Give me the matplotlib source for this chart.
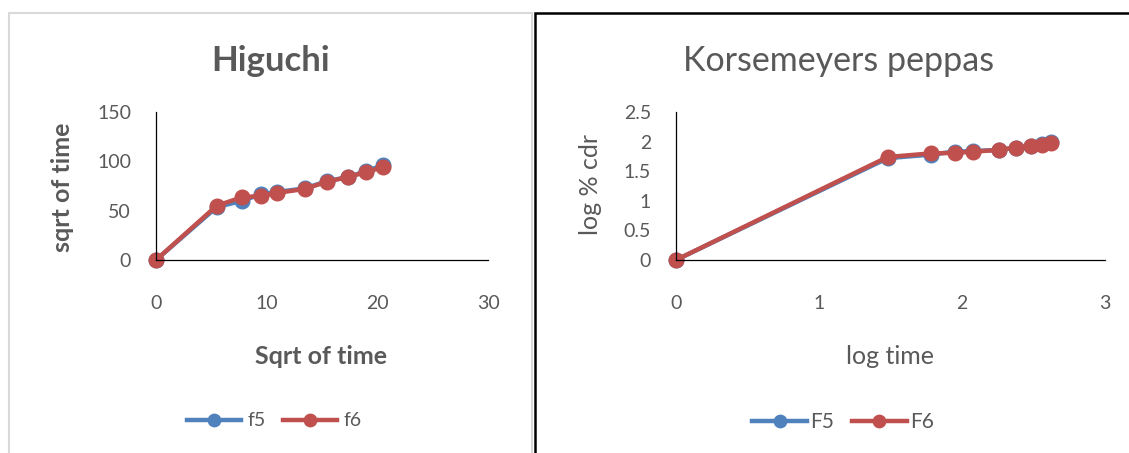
import matplotlib
matplotlib.use("Agg")
import matplotlib.pyplot as plt
from matplotlib.patches import Rectangle

# Release data: f5 / f6 formulations
sqrt_time = [0, 5.48, 7.75, 9.49, 10.95, 13.42, 15.49, 17.32, 18.97, 20.49]
higuchi_f5 = [0, 53.5, 60, 66.5, 69, 72.5, 80, 84, 90, 96]
higuchi_f6 = [0, 55, 63.5, 65, 68, 72, 79.5, 84, 89, 94]

log_time = [0, 1.48, 1.78, 1.95, 2.08, 2.26, 2.38, 2.48, 2.56, 2.62]
peppas_f5 = [0, 1.72, 1.78, 1.83, 1.84, 1.86, 1.90, 1.92, 1.96, 1.99]
peppas_f6 = [0, 1.74, 1.80, 1.81, 1.83, 1.86, 1.90, 1.92, 1.95, 1.97]

higuchi_xticks = [0, 10, 20, 30]
higuchi_yticks = [0, 50, 100, 150]
peppas_xticks = [0, 1, 2, 3]
peppas_yticks = [0, 0.5, 1, 1.5, 2, 2.5]

BLUE = "#4F81BD"
RED = "#C0504D"
GREY = "#595959"
FONT = "Lato"

W, H = 1129, 453
plt.rcParams["font.family"] = [FONT, "DejaVu Sans"]

fig = plt.figure(figsize=(W / 100, H / 100), dpi=100)


def fx(px):
    return px / W


def fy(py):
    return 1 - py / H


# panel frames
fig.add_artist(Rectangle((fx(9), fy(470)), fx(523), fy(13) - fy(470),
                         transform=fig.transFigure, fill=False,
                         edgecolor="#D9D9D9", linewidth=1.5))
fig.add_artist(Rectangle((fx(535), fy(470)), fx(620), fy(13) - fy(470),
                         transform=fig.transFigure, fill=False,
                         edgecolor="black", linewidth=1.8))


def make_axes(x0, x1, y0, y1):
    ax = fig.add_axes([fx(x0), fy(y1), fx(x1) - fx(x0), fy(y0) - fy(y1)])
    for side in ("top", "right"):
        ax.spines[side].set_visible(False)
    for side in ("left", "bottom"):
        ax.spines[side].set_color("black")
        ax.spines[side].set_linewidth(0.9)
    ax.tick_params(length=0)
    return ax


def draw_series(ax, x, y, color, label):
    ax.plot(x, y, color=color, linewidth=3.2, marker="o", markersize=10.5,
            label=label, clip_on=False)


# Higuchi
ax1 = make_axes(156, 488, 112, 260)
draw_series(ax1, sqrt_time, higuchi_f5, BLUE, "f5")
draw_series(ax1, sqrt_time, higuchi_f6, RED, "f6")
ax1.set_xlim(0, 30)
ax1.set_ylim(0, 150)
ax1.set_xticks(higuchi_xticks)
ax1.set_yticks(higuchi_yticks)
ax1.tick_params(axis="x", pad=25, labelsize=14, labelcolor=GREY)
ax1.tick_params(axis="y", pad=18, labelsize=14, labelcolor=GREY)
fig.text(fx(271), fy(61), "Higuchi", ha="center", va="center",
         fontsize=25, fontweight="bold", color=GREY)
fig.text(fx(321), fy(357), "Sqrt of time", ha="center", va="center",
         fontsize=18, fontweight="bold", color=GREY)
fig.text(fx(62), fy(187), "sqrt of time", ha="center", va="center",
         rotation=90, fontsize=18, fontweight="bold", color=GREY)
ax1.legend(loc="center", bbox_to_anchor=(fx(274), fy(421)),
           bbox_transform=fig.transFigure, ncol=2, frameon=False,
           fontsize=14, labelcolor=GREY, handlelength=2.8,
           handletextpad=0.3, columnspacing=0.9, markerscale=0.85)

# Korsmeyer-Peppas
ax2 = make_axes(676, 1105, 112, 260)
draw_series(ax2, log_time, peppas_f5, BLUE, "F5")
draw_series(ax2, log_time, peppas_f6, RED, "F6")
ax2.set_xlim(0, 3)
ax2.set_ylim(0, 2.5)
ax2.set_xticks(peppas_xticks)
ax2.set_yticks(peppas_yticks)
ax2.tick_params(axis="x", pad=25, labelsize=14, labelcolor=GREY)
ax2.tick_params(axis="y", pad=18, labelsize=14, labelcolor=GREY)
ax2.yaxis.set_major_formatter(plt.FuncFormatter(lambda v, p: f"{v:g}"))
fig.text(fx(839), fy(61), "Korsemeyers peppas", ha="center", va="center",
         fontsize=24.5, color=GREY)
fig.text(fx(890), fy(356), "log time", ha="center", va="center",
         fontsize=18, color=GREY)
fig.text(fx(591), fy(184), "log % cdr", ha="center", va="center",
         rotation=90, fontsize=18, color=GREY)
ax2.legend(loc="center", bbox_to_anchor=(fx(843), fy(422)),
           bbox_transform=fig.transFigure, ncol=2, frameon=False,
           fontsize=15, labelcolor=GREY, handlelength=2.6,
           handletextpad=0.15, columnspacing=0.9, markerscale=0.85)

fig.savefig("out.png", dpi=100)
